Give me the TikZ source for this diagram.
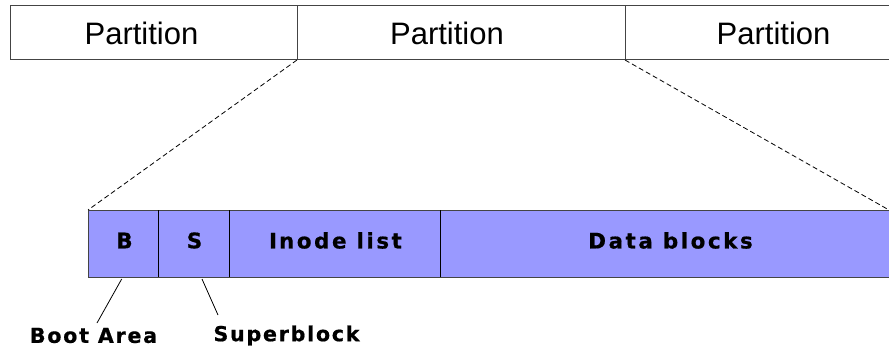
\documentclass[tikz,border=0pt]{standalone}
\usepackage{fontspec}
\setmainfont{Liberation Sans}
\newfontfamily\blockfont[LetterSpace=12,FakeBold=0.7]{DejaVu Sans Bold}
\newfontfamily\capfont[LetterSpace=8.5,FakeBold=0.7]{DejaVu Sans Bold}
\usetikzlibrary{calc}
\definecolor{blockfill}{HTML}{9999FF}
\definecolor{edge}{HTML}{444444}
\begin{document}
\begin{tikzpicture}[x=1pt,y=-1pt,
  cell/.style={inner sep=0pt, outer sep=0pt, anchor=north west},
  parttext/.style={font=\fontsize{31}{31}\selectfont, inner sep=0pt},
  blocktext/.style={font=\blockfont\fontsize{21.4}{21.4}\selectfont, inner sep=0pt},
  captext/.style={font=\capfont\fontsize{20.6}{20.6}\selectfont, inner sep=0pt},
  frame/.style={draw=edge, line width=1pt},
  zoomline/.style={draw=black, line width=0.8pt, dash pattern=on 5pt off 3pt},
  leader/.style={draw=black, line width=0.8pt}]
\useasboundingbox (0,0) rectangle (889,350);

% partition table (the last cell runs off the right edge)
\node[cell, minimum width=287pt, minimum height=54pt] (p1) at (10,6) {};
\node[cell, minimum width=328pt, minimum height=54pt] (p2) at (p1.north east) {};
\node[cell, minimum width=264pt, minimum height=54pt] (p3) at (p2.north east) {};
\draw[frame] (p3.north east) -- (p1.north west) -- (p1.south west) -- (p3.south east);
\draw[frame] (p1.north east) -- (p1.south east);
\draw[frame] (p2.north east) -- (p2.south east);
\node[parttext] (t1) at (141.5,33.5) {Partition};
\node[parttext] (t2) at (447,33.5) {Partition};
\node[parttext] (t3) at (773.5,33.5) {Partition};

% file system layout of one partition
\node[cell, fill=blockfill, minimum width=70.5pt, minimum height=67pt] (B) at (88,210) {};
\node[cell, fill=blockfill, minimum width=71pt, minimum height=67pt] (S) at (B.north east) {};
\node[cell, fill=blockfill, minimum width=210.5pt, minimum height=67pt] (I) at (S.north east) {};
\node[cell, fill=blockfill, minimum width=449pt, minimum height=67pt] (D) at (I.north east) {};
\draw[frame] (D.north east) -- (B.north west) -- (B.south west) -- (D.south east);
\draw[draw=black, line width=0.8pt] (B.north east) -- (B.south east);
\draw[draw=black, line width=0.8pt] (S.north east) -- (S.south east);
\draw[draw=black, line width=0.8pt] (I.north east) -- (I.south east);
\node[blocktext] (tb) at (124.5,240.5) {B};
\node[blocktext] (ts) at (194.5,240.5) {S};
\node[blocktext] (ti) at (335.5,240.5) {I\kern2pt node list};
\node[blocktext] (td) at (670.5,240.5) {Data blocks};

% zoom lines from the middle partition
\draw[zoomline] (p2.south west) -- (B.north west);
\draw[zoomline] (p2.south east) -- (D.north east);

% captions with leaders
\coordinate (bl1) at (121.7,279);
\coordinate (bl2) at (97,323);
\coordinate (sl1) at (202,279);
\coordinate (sl2) at (218,315);
\draw[leader] (bl1) -- (bl2);
\draw[leader] (sl1) -- (sl2);
\node[captext] (cb) at (93.5,335.5) {Boot Area};
\node[captext] (cs) at (286.5,335.5) {Superblock};
\end{tikzpicture}
\end{document}
